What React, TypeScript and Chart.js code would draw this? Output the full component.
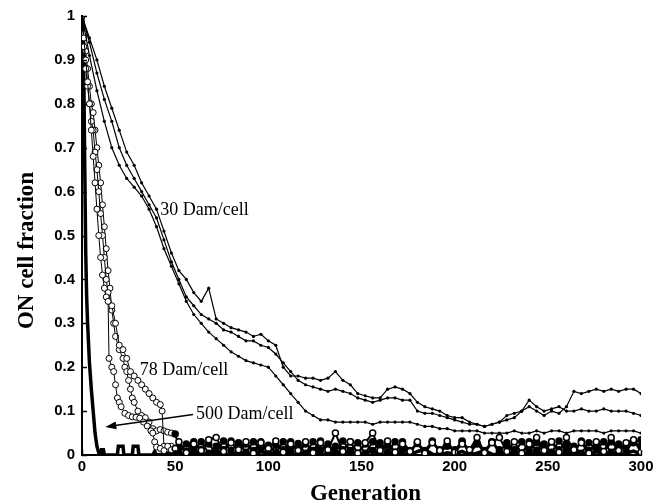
import React, { useEffect, useRef } from "react";
import { Chart, registerables } from "chart.js";

Chart.register(...registerables);

// ---------- data ----------
const GENS_30 = [0, 4, 8, 12, 16, 20, 24, 28, 32, 36, 40, 44, 48, 52, 56, 60, 64, 68, 72, 76, 80, 84, 88, 92, 96, 100, 104, 108, 112, 116, 120, 124, 128, 132, 136, 140, 144, 148, 152, 156, 160, 164, 168, 172, 176, 180, 184, 188, 192, 196, 200, 204, 208, 212, 216, 220, 224, 228, 232, 236, 240, 244, 248, 252, 256, 260, 264, 268, 272, 276, 280, 284, 288, 292, 296, 300];

const DAM30_RUN_A = [1.0, 0.95, 0.9, 0.84, 0.79, 0.74, 0.69, 0.66, 0.62, 0.59, 0.56, 0.51, 0.46, 0.42, 0.4, 0.37, 0.35, 0.38, 0.31, 0.3, 0.29, 0.285, 0.28, 0.27, 0.275, 0.26, 0.25, 0.2, 0.18, 0.18, 0.175, 0.175, 0.17, 0.175, 0.19, 0.17, 0.16, 0.14, 0.135, 0.13, 0.13, 0.15, 0.155, 0.15, 0.14, 0.12, 0.11, 0.105, 0.1, 0.09, 0.085, 0.085, 0.075, 0.07, 0.065, 0.07, 0.075, 0.08, 0.085, 0.1, 0.11, 0.1, 0.09, 0.1, 0.095, 0.11, 0.145, 0.14, 0.145, 0.15, 0.145, 0.15, 0.145, 0.15, 0.15, 0.14];

const DAM30_RUN_B = [1.0, 0.94, 0.87, 0.81, 0.76, 0.7, 0.66, 0.63, 0.6, 0.57, 0.54, 0.49, 0.44, 0.4, 0.36, 0.34, 0.32, 0.31, 0.3, 0.285, 0.28, 0.27, 0.26, 0.26, 0.25, 0.245, 0.23, 0.21, 0.19, 0.17, 0.16, 0.155, 0.15, 0.145, 0.15, 0.145, 0.14, 0.13, 0.125, 0.12, 0.125, 0.13, 0.13, 0.125, 0.125, 0.1, 0.095, 0.095, 0.09, 0.085, 0.08, 0.075, 0.07, 0.07, 0.065, 0.07, 0.075, 0.09, 0.095, 0.1, 0.125, 0.11, 0.1, 0.105, 0.11, 0.1, 0.1, 0.105, 0.1, 0.1, 0.105, 0.1, 0.1, 0.1, 0.095, 0.09];

const DAM30_RUN_C = [1.0, 0.91, 0.83, 0.76, 0.7, 0.66, 0.63, 0.61, 0.59, 0.56, 0.52, 0.47, 0.43, 0.39, 0.35, 0.32, 0.3, 0.28, 0.265, 0.25, 0.235, 0.225, 0.215, 0.21, 0.205, 0.2, 0.18, 0.16, 0.14, 0.12, 0.1, 0.09, 0.08, 0.08, 0.075, 0.075, 0.075, 0.075, 0.075, 0.07, 0.075, 0.075, 0.075, 0.075, 0.075, 0.07, 0.065, 0.065, 0.06, 0.06, 0.055, 0.055, 0.055, 0.055, 0.05, 0.05, 0.05, 0.05, 0.055, 0.05, 0.05, 0.055, 0.05, 0.055, 0.055, 0.05, 0.055, 0.055, 0.055, 0.055, 0.05, 0.055, 0.055, 0.055, 0.055, 0.05];

// 78 Dam/cell runs, early phase as [generation, fraction]
const DAM78_RUN_A_EARLY: [number, number][] = [[0, 1], [1, 0.95], [2, 0.9], [3, 0.85], [4, 0.8], [5, 0.74], [6, 0.68], [7, 0.62], [8, 0.56], [9, 0.5], [10, 0.45], [11, 0.41], [12, 0.38], [13, 0.36], [14, 0.35], [14.5, 0.22], [16, 0.2], [17, 0.19], [18, 0.16], [19, 0.13], [20, 0.12], [21, 0.11], [23, 0.095], [25, 0.09], [27, 0.087], [29, 0.086], [31, 0.084], [33, 0.075], [35, 0.066], [37, 0.055], [38, 0.05], [39, 0.03], [40, 0.018], [42, 0.015], [44, 0.01], [46, 0.02], [48, 0.012], [50, 0.015]];

const DAM78_RUN_B_EARLY: [number, number][] = [[0, 1], [1, 0.93], [2, 0.88], [3, 0.84], [4, 0.8], [5, 0.76], [6, 0.74], [7, 0.69], [8, 0.65], [9, 0.6], [10, 0.55], [11, 0.5], [12, 0.45], [13, 0.4], [14, 0.37], [16, 0.34], [18, 0.3], [20, 0.25], [22, 0.24], [24, 0.22], [26, 0.19], [28, 0.18], [30, 0.17], [32, 0.16], [34, 0.15], [36, 0.14], [38, 0.13], [40, 0.12], [42, 0.115], [43, 0.1], [44, 0.02], [46, 0.015], [48, 0.02], [50, 0.01]];

const DAM78_RUN_C_EARLY: [number, number][] = [[0, 1], [1, 0.96], [2, 0.92], [3, 0.88], [4, 0.84], [5, 0.8], [6, 0.78], [7, 0.74], [8, 0.7], [9, 0.66], [10, 0.62], [11, 0.57], [12, 0.52], [13, 0.47], [14, 0.42], [15, 0.38], [16, 0.33], [17, 0.3], [18, 0.27], [20, 0.24], [22, 0.22], [23, 0.2], [24, 0.19], [25, 0.17], [26, 0.15], [27, 0.13], [28, 0.12], [30, 0.1], [32, 0.09], [34, 0.085], [36, 0.075], [38, 0.06], [40, 0.055], [42, 0.058], [44, 0.055], [46, 0.052], [48, 0.05], [50, 0.048]];

const BAND_GENS = [52, 56, 60, 64, 68, 72, 76, 80, 84, 88, 92, 96, 100, 104, 108, 112, 116, 120, 124, 128, 132, 136, 140, 144, 148, 152, 156, 160, 164, 168, 172, 176, 180, 184, 188, 192, 196, 200, 204, 208, 212, 216, 220, 224, 228, 232, 236, 240, 244, 248, 252, 256, 260, 264, 268, 272, 276, 280, 284, 288, 292, 296, 300];

const DAM78_RUN_A_BAND = [0.03, 0.005, 0.025, 0.01, 0.035, 0.04, 0.008, 0.028, 0.012, 0.03, 0.004, 0.028, 0.015, 0.032, 0.006, 0.025, 0.01, 0.03, 0.005, 0.028, 0.012, 0.05, 0.008, 0.03, 0.004, 0.028, 0.05, 0.01, 0.032, 0.006, 0.025, 0.008, 0.03, 0.004, 0.028, 0.01, 0.032, 0.006, 0.025, 0.012, 0.04, 0.005, 0.028, 0.04, 0.008, 0.03, 0.004, 0.025, 0.04, 0.01, 0.03, 0.006, 0.04, 0.012, 0.028, 0.004, 0.03, 0.008, 0.04, 0.01, 0.028, 0.035, 0.006];

const DAM78_RUN_B_BAND = [0.005, 0.025, 0.01, 0.03, 0.004, 0.02, 0.012, 0.032, 0.006, 0.025, 0.01, 0.03, 0.004, 0.022, 0.012, 0.03, 0.006, 0.025, 0.01, 0.032, 0.005, 0.02, 0.012, 0.03, 0.004, 0.025, 0.01, 0.028, 0.006, 0.03, 0.012, 0.004, 0.028, 0.01, 0.032, 0.006, 0.02, 0.012, 0.03, 0.004, 0.025, 0.01, 0.03, 0.006, 0.028, 0.012, 0.004, 0.03, 0.01, 0.025, 0.006, 0.032, 0.01, 0.02, 0.004, 0.028, 0.012, 0.03, 0.006, 0.025, 0.01, 0.03, 0.02];

const DAM78_RUN_C_BAND = [0.02, 0.008, 0.03, 0.012, 0.025, 0.004, 0.032, 0.01, 0.028, 0.006, 0.03, 0.012, 0.022, 0.005, 0.03, 0.01, 0.026, 0.004, 0.03, 0.012, 0.025, 0.006, 0.032, 0.01, 0.028, 0.004, 0.03, 0.012, 0.022, 0.006, 0.03, 0.01, 0.026, 0.004, 0.03, 0.012, 0.025, 0.006, 0.032, 0.01, 0.028, 0.004, 0.03, 0.012, 0.022, 0.006, 0.03, 0.01, 0.028, 0.005, 0.03, 0.012, 0.025, 0.004, 0.032, 0.01, 0.026, 0.006, 0.03, 0.012, 0.022, 0.028, 0.035];

const DAM500_EARLY: [number, number][] = [[0, 1], [0.5, 0.95], [1, 0.85], [1.5, 0.65], [2, 0.46], [2.5, 0.36], [3, 0.3], [4, 0.21], [5, 0.15], [6, 0.1], [7, 0.05], [8, 0.02], [9, 0.005], [10, 0], [10.5, 0.012], [11.5, 0.012], [12, 0], [19, 0], [19.5, 0.02], [22, 0.02], [22.5, 0], [27, 0], [27.5, 0.02], [30, 0.02], [30.5, 0], [38, 0], [39, 0.008], [40, 0], [48, 0.004]];

const DAM500_BAND = [0.004, 0, 0.008, 0.002, 0, 0.01, 0.003, 0, 0.006, 0.002, 0, 0.008, 0.004, 0, 0.01, 0.002, 0, 0.005, 0.012, 0.003, 0, 0.006, 0.002, 0.008, 0, 0.004, 0.01, 0.002, 0, 0.006, 0.003, 0, 0.008, 0.012, 0.002, 0, 0.005, 0.003, 0.008, 0, 0.004, 0.01, 0.002, 0, 0.006, 0.003, 0.008, 0, 0.005, 0.002, 0.01, 0, 0.004, 0.007, 0.002, 0, 0.008, 0.003, 0.006, 0, 0.004, 0.009, 0.002];

const X_TICKS = [0, 50, 100, 150, 200, 250, 300];
const Y_TICKS = [0, 0.1, 0.2, 0.3, 0.4, 0.5, 0.6, 0.7, 0.8, 0.9, 1];

const X_TITLE = "Generation";
const Y_TITLE = "ON cell fraction";

const ANNOTATIONS = [
  { text: "30 Dam/cell", gen: 42, val: 0.557 },
  { text: "78 Dam/cell", gen: 31, val: 0.193 },
  { text: "500 Dam/cell", gen: 61.2, val: 0.093 },
];
const ARROW = { fromGen: 59.6, fromVal: 0.092, toGen: 12.5, toVal: 0.064 };

// ---------- helpers ----------
const zipPts = (xs: number[], ys: number[]) => xs.map((x, i) => ({ x, y: ys[i] }));
const pairPts = (p: [number, number][]) => p.map(([x, y]) => ({ x, y }));

const SERIF = '"Liberation Serif", "Times New Roman", serif';
const SANS = '"Liberation Sans", Arial, sans-serif';

const overlayPlugin = {
  id: "overlay",
  afterDraw(chart: any) {
    const { ctx } = chart;
    const x = chart.scales.x;
    const y = chart.scales.y;
    ctx.save();
    ctx.fillStyle = "#000";
    ctx.strokeStyle = "#000";

    // inward tick marks
    ctx.lineWidth = 1.5;
    ctx.beginPath();
    for (const v of Y_TICKS) {
      const py = Math.round(y.getPixelForValue(v)) + 0.5;
      ctx.moveTo(x.left, py);
      ctx.lineTo(x.left + 5, py);
    }
    for (const v of X_TICKS) {
      const px = Math.round(x.getPixelForValue(v)) + 0.5;
      ctx.moveTo(px, y.bottom);
      ctx.lineTo(px, y.bottom - 5);
    }
    ctx.stroke();

    // annotation labels
    ctx.font = `18px ${SERIF}`;
    ctx.textBaseline = "middle";
    ctx.textAlign = "left";
    for (const a of ANNOTATIONS) {
      ctx.fillText(a.text, x.getPixelForValue(a.gen), y.getPixelForValue(a.val));
    }

    // arrow
    const x1 = x.getPixelForValue(ARROW.fromGen);
    const y1 = y.getPixelForValue(ARROW.fromVal);
    const x2 = x.getPixelForValue(ARROW.toGen);
    const y2 = y.getPixelForValue(ARROW.toVal);
    const ang = Math.atan2(y2 - y1, x2 - x1);
    ctx.lineWidth = 1.5;
    ctx.beginPath();
    ctx.moveTo(x1, y1);
    ctx.lineTo(x2 - 8 * Math.cos(ang), y2 - 8 * Math.sin(ang));
    ctx.stroke();
    ctx.beginPath();
    ctx.moveTo(x2, y2);
    ctx.lineTo(x2 - 11 * Math.cos(ang) + 4 * Math.sin(ang), y2 - 11 * Math.sin(ang) - 4 * Math.cos(ang));
    ctx.lineTo(x2 - 11 * Math.cos(ang) - 4 * Math.sin(ang), y2 - 11 * Math.sin(ang) + 4 * Math.cos(ang));
    ctx.closePath();
    ctx.fill();

    // axis titles
    ctx.font = `bold 23px ${SERIF}`;
    ctx.textAlign = "center";
    ctx.textBaseline = "alphabetic";
    ctx.fillText(X_TITLE, (x.left + x.right) / 2 + 4, 500);
    ctx.save();
    ctx.translate(33, (y.top + y.bottom) / 2 + 15);
    ctx.rotate(-Math.PI / 2);
    ctx.fillText(Y_TITLE, 0, 0);
    ctx.restore();

    ctx.restore();
  },
};

export default function App() {
  const ref = useRef<HTMLCanvasElement | null>(null);

  useEffect(() => {
    if (!ref.current) return;
    const line30 = (data: any) => ({
      data,
      borderColor: "#000",
      borderWidth: 1.2,
      pointRadius: 1.6,
      pointBackgroundColor: "#000",
      pointBorderWidth: 0,
      tension: 0,
    });
    const line78 = (data: any, bandFill: string) => ({
      data,
      borderColor: "#000",
      borderWidth: 1,
      segment: { borderWidth: (c: any) => (c.p0.parsed.x >= 50 ? 2 : 1) },
      pointRadius: 3,
      pointStyle: "circle",
      pointBackgroundColor: (c: any) => (c.raw && c.raw.x >= 50 ? bandFill : "#fff"),
      pointBorderColor: "#000",
      pointBorderWidth: (c: any) => (c.raw && c.raw.x >= 50 ? 1.5 : 1),
      tension: 0,
    });

    const chart = new Chart(ref.current, {
      type: "line",
      data: {
        datasets: [
          line30(zipPts(GENS_30, DAM30_RUN_A)),
          line30(zipPts(GENS_30, DAM30_RUN_B)),
          line30(zipPts(GENS_30, DAM30_RUN_C)),
          line78([...pairPts(DAM78_RUN_A_EARLY), ...zipPts(BAND_GENS, DAM78_RUN_A_BAND)], "#fff"),
          line78([...pairPts(DAM78_RUN_B_EARLY), ...zipPts(BAND_GENS, DAM78_RUN_B_BAND)], "#000"),
          line78([...pairPts(DAM78_RUN_C_EARLY), ...zipPts(BAND_GENS, DAM78_RUN_C_BAND)], "#000"),
          {
            data: [...pairPts(DAM500_EARLY), ...zipPts(BAND_GENS, DAM500_BAND)],
            borderColor: "#000",
            borderWidth: 3.5,
            pointRadius: 0,
            tension: 0,
          },
        ] as any,
      },
      options: {
        animation: false,
        responsive: true,
        maintainAspectRatio: false,
        parsing: false as any,
        layout: { padding: { left: 0, top: 15, right: 20, bottom: 0 } },
        plugins: { legend: { display: false }, tooltip: { enabled: false } },
        scales: {
          x: {
            type: "linear",
            min: 0,
            max: 300,
            afterFit: (s: any) => { s.height = 47; },
            afterBuildTicks: (s: any) => { s.ticks = X_TICKS.map((v) => ({ value: v })); },
            ticks: {
              color: "#000",
              font: { family: SANS, size: 15, weight: "bold" },
              padding: 3,
              maxRotation: 0,
              callback: (v: any) => String(v),
            },
            grid: { display: false, drawTicks: false },
            border: { display: true, color: "#000", width: 2 },
          },
          y: {
            type: "linear",
            min: 0,
            max: 1,
            afterFit: (s: any) => { s.width = 82; },
            afterBuildTicks: (s: any) => { s.ticks = Y_TICKS.map((v) => ({ value: v })); },
            ticks: {
              color: "#000",
              font: { family: SANS, size: 15, weight: "bold" },
              padding: 7,
              callback: (v: any) => String(Math.round(Number(v) * 10) / 10),
            },
            grid: { display: false, drawTicks: false },
            border: { display: true, color: "#000", width: 2 },
          },
        },
      },
      plugins: [overlayPlugin],
    });
    return () => chart.destroy();
  }, []);

  return (
    <div style={{ position: "fixed", left: 0, top: 0, width: 661, height: 502, background: "#fff" }}>
      <canvas ref={ref} />
    </div>
  );
}
